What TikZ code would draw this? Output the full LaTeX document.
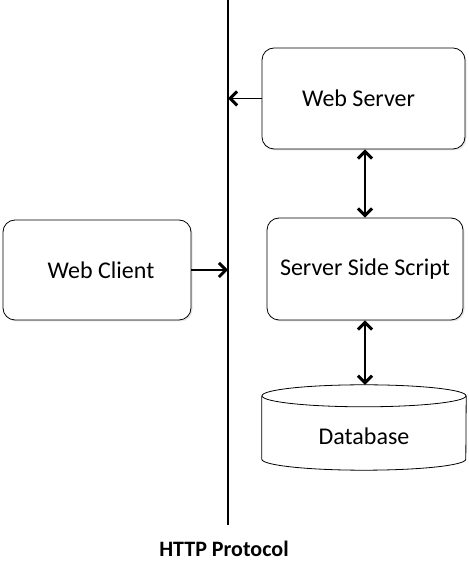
\documentclass[tikz,border=0pt]{standalone}
\usepackage{fontspec}
\setmainfont{Carlito}
\usepackage{tikz}
\usetikzlibrary{arrows.meta}
\usetikzlibrary{shadows}
\tikzset{>={Straight Barb[length=7pt,width=14pt,line width=3pt]}}
\tikzset{box/.style={draw, line width=0.8pt, rounded corners=12pt, fill=white,
		drop shadow={shadow xshift=1.5pt, shadow yshift=-1.5pt, opacity=0.2},
		font=\fontsize{24}{28}\selectfont},
	link/.style={line width=2pt}}

\begin{document}
\begin{tikzpicture}[x=1pt,y=1pt]
			\useasboundingbox (0,0) rectangle (468,561);
			\coordinate (Ltop) at (228,561);
			\coordinate (Lbot) at (228,36);
			\node[box, minimum width=203pt, minimum height=101pt] (web) at (363.5,462.5) {\hspace*{-10pt}Web Server};
			\node[box, minimum width=188pt, minimum height=100pt] (client) at (97,291) {\hspace*{8pt}Web Client};
			\node[box, minimum width=196pt, minimum height=102pt] (script) at (365,292) {Server Side Script};
			\node[minimum width=204pt, minimum height=85pt,
				label={[font=\fontsize{24}{28}\selectfont, yshift=-9pt]center:Database}] (db) at (364,133.5) {};
			\draw[line width=0.8pt] ([yshift=-11pt]db.north) ellipse[x radius=102pt, y radius=11pt];
			\draw[line width=0.8pt] ([yshift=-11pt]db.north west) -- ([yshift=11pt]db.south west)
				arc[start angle=180, end angle=360, x radius=102pt, y radius=11pt] -- ([yshift=-11pt]db.north east);
			\draw[line width=1.8pt] (Ltop)--(Lbot);
			\node[font=\bfseries\fontsize{22}{26}\selectfont] (http) at (224,12) {HTTP Protocol};
			\draw[line width=1.3pt,->](web.west)--(web.west -| Ltop);
			\draw[link,->](client.east)--(client.east -| Ltop);
			\draw[link,<->](script.north)--(script.north |- web.south);
			\draw[link,<->](script.south)--(script.south |- db.north);
		\end{tikzpicture}
\end{document}
